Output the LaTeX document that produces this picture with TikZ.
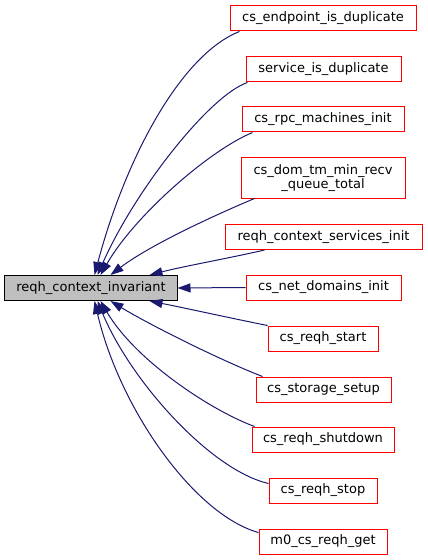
\documentclass[tikz,border=0pt]{standalone}
\usepackage{fontspec}
\setmainfont{DejaVu Sans}
\usetikzlibrary{arrows.meta,calc}
\definecolor{edgecol}{HTML}{191970}
\definecolor{maingray}{HTML}{BFBFBF}
\begin{document}
\begin{tikzpicture}[x=1bp,y=-1bp,
  fn/.style={draw=red,fill=white,line width=1bp,inner xsep=2bp,inner ysep=0pt,
    minimum height=25bp,font=\fontsize{13bp}{14.5bp}\selectfont,align=center},
  mainfn/.style={fn,draw=black,fill=maingray},
  edge/.style={draw=edgecol,line width=1bp,-{Triangle[length=13bp,width=9bp]}}]
\useasboundingbox (0,0) rectangle (427,560);
\node[mainfn,minimum width=172bp] (main) at (91,288) {reqh\_context\_invariant};
\node[fn,minimum width=186bp] (n1) at (323,18.5) {cs\_endpoint\_is\_duplicate};
\node[fn,minimum width=155bp] (n2) at (323.5,69.5) {service\_is\_duplicate};
\node[fn,minimum width=162bp] (n3) at (323,119.5) {cs\_rpc\_machines\_init};
\node[fn,minimum width=164bp,minimum height=40bp] (n4) at (323,178) {cs\_dom\_tm\_min\_recv\\\_queue\_total};
\node[fn,minimum width=197bp] (n5) at (323.5,237) {reqh\_context\_services\_init};
\node[fn,minimum width=155bp] (n6) at (323.5,287.5) {cs\_net\_domains\_init};
\node[fn,minimum width=110bp] (n7) at (323,338.5) {cs\_reqh\_start};
\node[fn,minimum width=135bp] (n8) at (323.5,389.5) {cs\_storage\_setup};
\node[fn,minimum width=142bp] (n9) at (323,439.5) {cs\_reqh\_shutdown};
\node[fn,minimum width=108bp] (n10) at (323,490.5) {cs\_reqh\_stop};
\node[fn,minimum width=128bp] (n11) at (323,541.5) {m0\_cs\_reqh\_get};
% top edges
\draw[edge] ($(n1.south west)+(10,0)$) .. controls (180,55) and (125,160) .. ($(main.north west)+(90,0)$);
\draw[edge] ($(n2.south west)+(2,0)$) .. controls (210,95) and (135,190) .. ($(main.north west)+(93,0)$);
\draw[edge] ($(n3.south west)+(11,0)$) .. controls (210,150) and (135,215) .. ($(main.north west)+(96,0)$);
\draw[edge] ($(n4.south west)+(14,0)$) .. controls (215,215) and (150,245) .. ($(main.north west)+(106,0)$);
\draw[edge] ($(n5.south west)+(40,0)$) .. controls (230,258) and (185,266) .. ($(main.north west)+(145,0)$);
% middle
\draw[edge] (n6.west) -- (main.east);
% bottom edges
\draw[edge] ($(n7.north west)+(0,0)$) .. controls (230,318) and (185,308) .. ($(main.south west)+(145,0)$);
\draw[edge] ($(n8.north west)+(7,0)$) .. controls (220,360) and (150,325) .. ($(main.south west)+(106,0)$);
\draw[edge] ($(n9.north west)+(3,0)$) .. controls (210,410) and (135,360) .. ($(main.south west)+(96,0)$);
\draw[edge] ($(n10.west)+(0,-7)$) .. controls (210,470) and (130,380) .. ($(main.south west)+(93,0)$);
\draw[edge] ($(n11.west)+(0,-9)$) .. controls (195,515) and (120,410) .. ($(main.south west)+(90,0)$);
\end{tikzpicture}
\end{document}
